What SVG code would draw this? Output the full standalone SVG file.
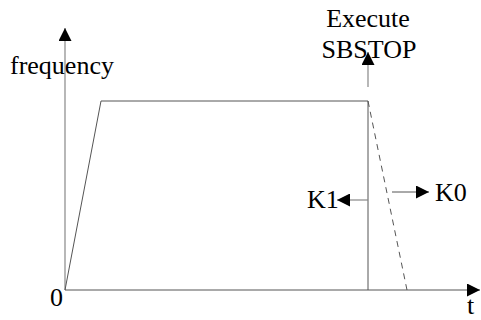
<svg xmlns="http://www.w3.org/2000/svg" width="481" height="320" viewBox="0 0 481 320">
<style>
text{font-family:"Liberation Serif","Times New Roman",serif;font-size:26px;fill:#000}
.ln{stroke:#555;stroke-width:1;fill:none}
.ax{stroke:#888;stroke-width:1.2;fill:none}
</style>
<defs>
<marker id="ah" markerWidth="13" markerHeight="13" refX="13" refY="6.5" orient="auto" markerUnits="userSpaceOnUse">
<path d="M0,0 L13,6.5 L0,13 Z" fill="#000"/>
</marker>
</defs>
<rect width="481" height="320" fill="#fff"/>
<g id="connectors">
<line class="ax" x1="65" y1="290" x2="65" y2="28" marker-end="url(#ah)"/>
<line class="ln" x1="65" y1="290" x2="480" y2="290" marker-end="url(#ah)"/>
<polyline class="ln" points="65,290 101,101 368,101 368,290"/>
<line class="ln" x1="368" y1="101" x2="407" y2="290" stroke-dasharray="6,5"/>
<line class="ax" x1="368" y1="87" x2="368" y2="52" marker-end="url(#ah)"/>
<line class="ax" x1="368" y1="200" x2="337" y2="200" marker-end="url(#ah)"/>
<line class="ln" x1="392" y1="192" x2="429" y2="192" marker-end="url(#ah)"/>
</g>
<g id="labels">
<text x="10" y="74">frequency</text>
<text x="368" y="27" text-anchor="middle">Execute</text>
<text x="369" y="58" text-anchor="middle">SBSTOP</text>
<text x="307" y="208">K1</text>
<text x="435" y="201">K0</text>
<text x="50" y="306">0</text>
<text x="467" y="314">t</text>
</g>
</svg>
